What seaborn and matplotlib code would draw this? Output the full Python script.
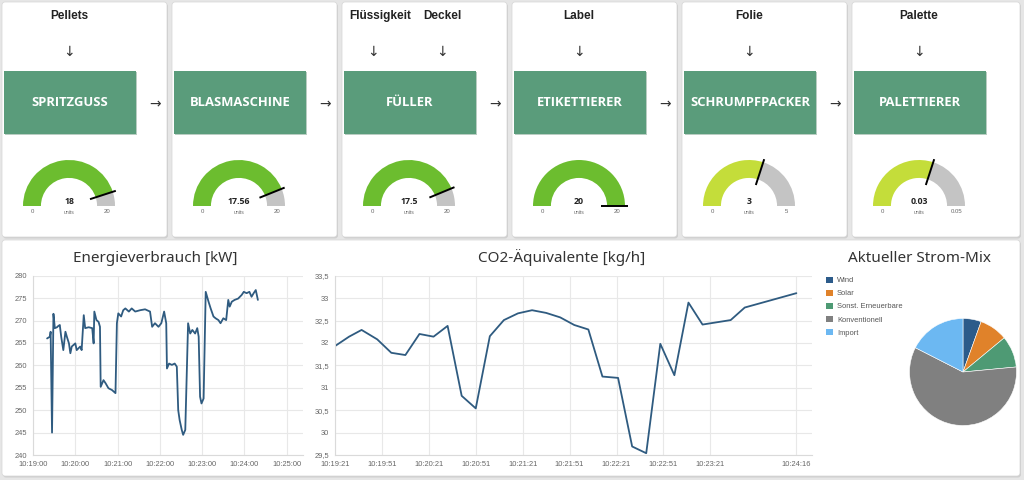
import numpy as np
import pandas as pd
import matplotlib
matplotlib.use("Agg")
import matplotlib.pyplot as plt
import matplotlib.dates as mdates
from matplotlib.patches import FancyBboxPatch, Rectangle
from matplotlib.ticker import FuncFormatter
import seaborn as sns

# ---------------- data ----------------
stations = ["SPRITZGUSS", "BLASMASCHINE", "FÜLLER", "ETIKETTIERER", "SCHRUMPFPACKER", "PALETTIERER"]
station_inputs = [["Pellets"], [], ["Flüssigkeit", "Deckel"], ["Label"], ["Folie"], ["Palette"]]
gauge_values = [18, 17.56, 17.5, 20, 3, 0.03]
gauge_max = [20, 20, 20, 20, 5, 0.05]
gauge_value_labels = ["18", "17.56", "17.5", "20", "3", "0.03"]
gauge_max_labels = ["20", "20", "20", "20", "5", "0.05"]
gauge_unit = "units"

energy_start = "2023-01-01 10:19:00"
energy_sec = [20, 24, 25, 27, 29, 31, 34, 36, 38, 40, 43, 46, 48, 51, 53, 55, 60, 62, 67, 69,
              72, 74, 79, 84, 86, 87, 90, 93, 95, 96, 100, 103, 107, 112, 117, 119, 121, 125,
              128, 131, 136, 140, 145, 152, 159, 166, 169, 173, 178, 182, 186, 189, 190, 193,
              197, 201, 204, 206, 208, 211, 213, 216, 220, 223, 226, 230, 233, 235, 237, 239,
              242, 245, 249, 252, 256, 259, 263, 266, 270, 274, 277, 279, 282, 286, 291, 296,
              299, 303, 307, 310, 313, 316, 319]
energy_kw = [266.0, 266.4, 267.5, 245.0, 271.5, 268.3, 268.5, 268.8, 269.0, 266.4, 263.4, 267.5,
             266.4, 264.9, 262.7, 264.2, 264.9, 263.4, 264.2, 263.4, 271.2, 268.3, 268.5, 268.3,
             264.9, 272.0, 270.1, 269.7, 268.6, 255.2, 256.7, 256.0, 254.9, 254.5, 253.8, 269.4,
             271.6, 270.9, 272.3, 272.7, 272.0, 272.7, 272.0, 272.3, 272.5, 272.0, 268.6, 269.4,
             268.6, 269.4, 272.0, 269.4, 259.3, 260.4, 260.1, 260.4, 259.7, 250.0, 247.8, 245.6,
             244.5, 245.6, 269.4, 267.1, 267.9, 267.1, 268.3, 266.4, 253.0, 251.5, 252.6, 276.4,
             274.2, 272.7, 270.9, 270.5, 270.1, 269.4, 270.5, 270.1, 274.6, 273.1, 274.2, 274.6,
             274.9, 275.7, 276.4, 276.1, 276.4, 275.3, 276.1, 276.8, 274.6]

co2_start = "2023-01-01 10:19:21"
co2_sec = [0, 9, 17, 27, 36, 45, 54, 63, 72, 81, 90, 99, 108, 117, 126, 135, 144, 153, 162,
           171, 181, 190, 199, 208, 217, 226, 235, 253, 262, 295]
co2_kg = [31.93, 32.14, 32.29, 32.08, 31.78, 31.73, 32.20, 32.14, 32.38, 30.82, 30.54, 32.15,
          32.51, 32.66, 32.73, 32.67, 32.57, 32.40, 32.30, 31.25, 31.22, 29.69, 29.54, 31.98,
          31.28, 32.90, 32.41, 32.51, 32.79, 33.11]
co2_tick_labels = ["10:19:21", "10:19:51", "10:20:21", "10:20:51", "10:21:21", "10:21:51",
                   "10:22:21", "10:22:51", "10:23:21", "10:24:16"]

mix_labels = ["Wind", "Solar", "Sonst. Erneuerbare", "Konventionell", "Import"]
mix_share = [5.5, 8.5, 9.5, 59.0, 17.5]

# ---------------- style ----------------
W, H = 1024, 480
BG = "#e6e6e6"
BOX = "#5a9c7b"
LINE = "#2f5b80"
GRID = "#e8e8e8"
TICK = "#666666"
gauge_colors = ["#6cbd2f", "#6cbd2f", "#6cbd2f", "#6cbd2f", "#c4dd3a", "#c4dd3a"]
GAUGE_BG = "#c4c4c4"
mix_colors = ["#2c5b8a", "#e0822a", "#4e9a74", "#808080", "#6cb8f2"]

sns.set_style("white")
plt.rcParams["font.family"] = ["Liberation Sans", "DejaVu Sans"]

fig = plt.figure(figsize=(W / 100, H / 100), dpi=100)
fig.patch.set_facecolor(BG)


def fbox(x0, y0, x1, y1):
    return [x0 / W, 1 - y1 / H, (x1 - x0) / W, (y1 - y0) / H]


bg = fig.add_axes([0, 0, 1, 1])
bg.set_xlim(0, W)
bg.set_ylim(H, 0)
bg.axis("off")


def card(x0, y0, x1, y1):
    bg.add_patch(FancyBboxPatch((x0 + 1, y0 + 1.5), x1 - x0, y1 - y0,
                                boxstyle="round,pad=0,rounding_size=3",
                                fc="#c6c6c6", ec="none", alpha=0.7))
    bg.add_patch(FancyBboxPatch((x0, y0), x1 - x0, y1 - y0,
                                boxstyle="round,pad=0,rounding_size=3",
                                fc="white", ec="#d6d6d6", lw=0.5))


# ---------------- top cards ----------------
for i, name in enumerate(stations):
    L = 2 + 170 * i
    R = L + (168 if i == 5 else 165)
    card(L, 2, R, 237)
    # green process box
    bg.add_patch(Rectangle((L + 3, 71.5), 132, 63.5, fc="#b9cdc2", ec="none"))
    bg.add_patch(Rectangle((L + 2, 70.5), 132, 63.5, fc=BOX, ec="none"))
    bg.text(L + 68, 103, name, ha="center", va="center", color="white",
            fontsize=9.4, fontweight="bold", family="Open Sans")
    if i < 5:
        bg.text(L + 153, 104, "→", ha="center", va="center", fontsize=10,
                color="#333333", family="DejaVu Sans")
    ins = station_inputs[i]
    if len(ins) == 1:
        lx, ax_ = [L + 67], [L + 67]
    elif len(ins) == 2:
        lx, ax_ = [L + 38, L + 100], [L + 31, L + 100]
    else:
        lx, ax_ = [], []
    for t, x, xa in zip(ins, lx, ax_):
        bg.text(x, 16, t, ha="center", va="center", fontsize=8.5, fontweight="bold",
                color="#222222")
        bg.text(xa, 52, "↓", ha="center", va="center", fontsize=10, color="#333333",
                family="DejaVu Sans")

    # gauge
    cx, cy, Rg = L + 67, 206, 46
    gax = fig.add_axes(fbox(cx - 50, cy - 50, cx + 50, cy + 50))
    v, m = gauge_values[i], gauge_max[i]
    gax.pie([v, m - v, m], colors=[gauge_colors[i], GAUGE_BG, "none"], startangle=180,
            counterclock=False, radius=1, wedgeprops=dict(width=0.39, linewidth=0))
    th = np.pi * (1 - v / m)
    gax.plot([0.48 * np.cos(th), 1.07 * np.cos(th)], [0.48 * np.sin(th), 1.07 * np.sin(th)],
             color="black", lw=1.4, solid_capstyle="butt")
    lim = 50 / Rg
    gax.set_xlim(-lim, lim)
    gax.set_ylim(-lim, lim)
    gax.axis("off")
    gax.text(0, 0.09, gauge_value_labels[i], ha="center", va="center", fontsize=6.3,
             fontweight="bold", color="#222222", family="Open Sans")
    gax.text(0, -0.14, gauge_unit, ha="center", va="center", fontsize=3.6, color="#666666")
    gax.text(-0.8, -0.12, "0", ha="center", va="center", fontsize=4.3, color="#666666")
    gax.text(0.82, -0.12, gauge_max_labels[i], ha="center", va="center", fontsize=4.3,
             color="#666666")

# ---------------- bottom card ----------------
card(2, 240, 1020, 476)

title_kw = dict(ha="center", va="center", fontsize=11, family="Noto Sans", color="#333333")
bg.text(155, 258, "Energieverbrauch [kW]", **title_kw)
bg.text(562, 258, "CO2-Äquivalente [kg/h]", **title_kw)
bg.text(919, 258, "Aktueller Strom-Mix", **title_kw)


def style_axes(ax):
    ax.set_facecolor("white")
    ax.grid(True, color=GRID, lw=0.8)
    for s in ["top", "right"]:
        ax.spines[s].set_visible(False)
    for s in ["left", "bottom"]:
        ax.spines[s].set_color("#dadada")
        ax.spines[s].set_linewidth(0.8)
    ax.tick_params(axis="both", length=0, labelsize=5.4, colors=TICK, pad=4)
    ax.set_xlabel("")
    ax.set_ylabel("")


# Energy chart
eax = fig.add_axes(fbox(33, 275.7, 303, 455))
e_time = pd.Timestamp(energy_start) + pd.to_timedelta(energy_sec, unit="s")
sns.lineplot(x=e_time, y=energy_kw, ax=eax, color=LINE, linewidth=1.3)
eax.set_ylim(240, 280)
eax.set_yticks(np.arange(240, 281, 5))
eax.set_xlim(pd.Timestamp(energy_start), pd.Timestamp(energy_start) + pd.Timedelta(seconds=383))
eax.set_xticks(pd.date_range(energy_start, periods=7, freq="min"))
eax.xaxis.set_major_formatter(mdates.DateFormatter("%H:%M:%S"))
style_axes(eax)

# CO2 chart
cax = fig.add_axes(fbox(335, 275.7, 812, 455))
c_time = pd.Timestamp(co2_start) + pd.to_timedelta(co2_sec, unit="s")
sns.lineplot(x=c_time, y=co2_kg, ax=cax, color=LINE, linewidth=1.3)
cax.set_ylim(29.5, 33.5)
cax.set_yticks(np.arange(29.5, 33.51, 0.5))
cax.yaxis.set_major_formatter(FuncFormatter(lambda v, p: f"{v:g}".replace(".", ",")))
cax.set_xlim(pd.Timestamp(co2_start), pd.Timestamp(co2_start) + pd.Timedelta(seconds=305))
cax.set_xticks(pd.to_datetime(["2023-01-01 " + t for t in co2_tick_labels]))
cax.set_xticklabels(co2_tick_labels)
style_axes(cax)

# Pie chart
pcx, pcy, pr = 963, 372, 53.5
pax = fig.add_axes(fbox(pcx - 55, pcy - 55, pcx + 55, pcy + 55))
wedges, _ = pax.pie(mix_share, colors=mix_colors, startangle=90, counterclock=False,
                    wedgeprops=dict(edgecolor="white", linewidth=0.4))
pl = 55 / pr
pax.set_xlim(-pl, pl)
pax.set_ylim(-pl, pl)
pax.axis("off")
leg = pax.legend(wedges, mix_labels, loc="upper left", bbox_to_anchor=(826 / W, 1 - 276.5 / H),
                 bbox_transform=fig.transFigure, frameon=False, fontsize=5.4,
                 handlelength=0.95, handleheight=0.95, handletextpad=0.5,
                 labelspacing=0.7, borderpad=0, borderaxespad=0)
for t in leg.get_texts():
    t.set_color("#555555")
for h in leg.legend_handles:
    h.set_edgecolor("none")

fig.savefig("out.png", dpi=100, facecolor=BG)
